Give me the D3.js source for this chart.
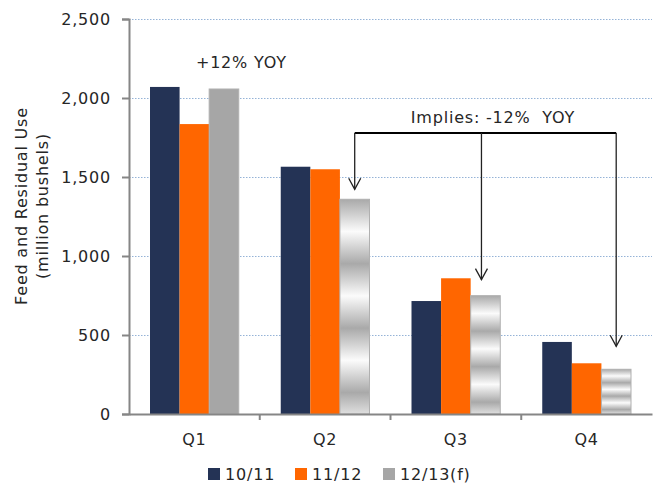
<!DOCTYPE html>
<meta charset="utf-8">
<style>
body { margin: 0; background: #fff; }
text { font-family: "DejaVu Sans", Verdana, sans-serif; font-size: 16px; letter-spacing: 0.8px; fill: #262626; }
.grid line { stroke: #95b3d7; stroke-dasharray: 1.5,1.5; }
.grid path { stroke-width: 0; }
.axis path, .axis line { stroke: #868686; stroke-width: 2px; }
</style>
<body>
<script src="https://d3js.org/d3.v7.min.js"></script>
<script>

// data
var quarters = ["Q1", "Q2", "Q3", "Q4"];
var seriesNames = ["10/11", "11/12", "12/13(f)"];
var use1011 = [2070, 1565, 715, 456];
var use1112 = [1835, 1549, 859, 321];
var use1213 = [2057, 1359, 749, 283];
var yTicks = [0, 500, 1000, 1500, 2000, 2500];
var colors = ["#243355", "#ff6600", "#a6a6a6"];

var margin = {top: 19, right: 6, bottom: 70, left: 129},
    width = 658 - margin.left - margin.right,
    height = 484 - margin.top - margin.bottom;

var svg = d3.select("body").append("svg")
    .attr("width", 658)
    .attr("height", 484);

var defs = svg.append("defs");
// banded silver fill for the forecast bars
var grad = defs.append("linearGradient")
    .attr("id", "silver")
    .attr("x1", 0).attr("y1", 0)
    .attr("x2", 0).attr("y2", 0.15)
    .attr("spreadMethod", "reflect");
grad.append("stop").attr("offset", "0%").attr("stop-color", "#a9a9a9");
grad.append("stop").attr("offset", "100%").attr("stop-color", "#fbfbfb");

var g = svg.append("g")
    .attr("transform", "translate(" + margin.left + "," + margin.top + ")");

var x0 = d3.scaleBand().domain(quarters).range([0, width]);
var x1 = d3.scaleBand().domain(seriesNames)
    .range([21, x0.bandwidth() - 21]);
var y = d3.scaleLinear().domain([0, 2500]).range([height, 0]);

// gridlines
g.append("g")
    .attr("class", "grid")
    .call(d3.axisLeft(y).tickValues(yTicks.slice(1)).tickSize(-width).tickFormat(""));

// bars
var rows = quarters.map(function(q, i) {
  return [use1011[i], use1112[i], use1213[i]].map(function(v, j) {
    return {q: q, s: seriesNames[j], j: j, i: i, v: v};
  });
});

g.selectAll(".grp")
    .data(rows)
  .enter().append("g")
    .attr("transform", function(d, i) { return "translate(" + x0(quarters[i]) + ",0)"; })
  .selectAll("rect")
    .data(function(d) { return d; })
  .enter().append("rect")
    .attr("x", function(d) { return x1(d.s); })
    .attr("width", x1.bandwidth())
    .attr("y", function(d) { return y(d.v); })
    .attr("height", function(d) { return height - y(d.v); })
    .attr("fill", function(d) {
      if (d.j == 2 && d.i > 0) return "url(#silver)";
      return colors[d.j];
    })
    .attr("stroke", function(d) { return d.j == 2 ? "#b0b0b0" : "none"; })
    .attr("stroke-width", 1);

// y axis
var yAxis = g.append("g")
    .attr("class", "axis")
    .call(d3.axisLeft(y).tickValues(yTicks).tickSize(7).tickPadding(11)
      .tickFormat(d3.format(",")));
yAxis.selectAll("text").style("font-size", "16px");

// x axis
var xAxis = g.append("g")
    .attr("class", "axis")
    .attr("transform", "translate(0," + height + ")")
    .call(d3.axisBottom(x0).tickSize(0).tickPadding(20));
xAxis.selectAll("text").style("font-size", "16px");
xAxis.selectAll(".sep")
    .data(quarters.slice(1))
  .enter().append("line")
    .attr("x1", function(d) { return x0(d); })
    .attr("x2", function(d) { return x0(d); })
    .attr("y1", 0).attr("y2", 6)
    .attr("stroke", "#868686").attr("stroke-width", 1);

// y axis title
svg.append("text")
    .attr("transform", "translate(27,206) rotate(-90)")
    .attr("text-anchor", "middle")
    .text("Feed and Residual Use");
svg.append("text")
    .attr("transform", "translate(48,206) rotate(-90)")
    .attr("text-anchor", "middle")
    .text("(million bushels)");

// annotations
g.append("text")
    .attr("x", x0("Q1") + x0.bandwidth() / 2 + 47)
    .attr("y", 68 - margin.top)
    .attr("text-anchor", "middle")
    .text("+12% YOY");

g.append("text")
    .attr("x", 493 - margin.left)
    .attr("y", 123 - margin.top)
    .attr("text-anchor", "middle")
    .style("white-space", "pre")
    .text("Implies: -12%  YOY");

var barY = 133 - margin.top;
var cx = function(i) { return x0(quarters[i]) + x1("12/13(f)") + x1.bandwidth() / 2; };
var tipGap = [0, 10, 16, 23];

g.append("line")
    .attr("x1", cx(1)).attr("x2", cx(3))
    .attr("y1", barY).attr("y2", barY)
    .attr("stroke", "#000").attr("stroke-width", 2);

[1, 2, 3].forEach(function(i) {
  var ax = i == 2 ? cx(i) - 4 : cx(i);
  var tip = y(use1213[i]) - tipGap[i];
  g.append("line")
      .attr("x1", ax).attr("x2", ax)
      .attr("y1", barY).attr("y2", tip)
      .attr("stroke", "#222").attr("stroke-width", 1.3);
  g.append("path")
      .attr("d", "M" + (ax - 6) + "," + (tip - 11) + "L" + ax + "," + tip + "L" + (ax + 6) + "," + (tip - 11))
      .attr("fill", "none")
      .attr("stroke", "#222").attr("stroke-width", 1.3);
});

// legend
var legX = [208, 295, 383];
var leg = svg.selectAll(".leg")
    .data(seriesNames)
  .enter().append("g")
    .attr("transform", function(d, i) { return "translate(" + legX[i] + ",468)"; });
leg.append("rect")
    .attr("width", 12).attr("height", 12)
    .attr("fill", function(d, i) { return colors[i]; });
leg.append("text")
    .attr("x", 17).attr("y", 12)
    .text(function(d) { return d; });

</script>
</body>
